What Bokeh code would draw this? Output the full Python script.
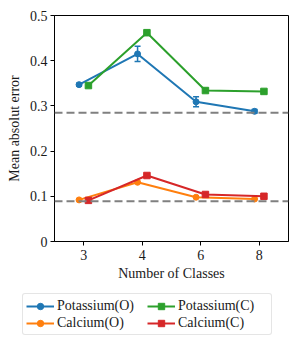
from bokeh.plotting import figure
from bokeh.models import (ColumnDataSource, FactorRange, Span, Whisker, Legend, LegendItem,
                          FixedTicker, Range1d, TeeHead)
from bokeh.transform import dodge
from bokeh.embed import file_html
from bokeh.resources import INLINE

classes = ["3", "4", "6", "8"]
potassium_o = [0.347, 0.415, 0.309, 0.288]
potassium_o_err = [0.003, 0.017, 0.011, 0.004]
potassium_c = [0.345, 0.462, 0.334, 0.332]
calcium_o = [0.092, 0.131, 0.098, 0.094]
calcium_c = [0.091, 0.146, 0.104, 0.100]
baseline_potassium = 0.285
baseline_calcium = 0.089
y_ticks = [0.0, 0.1, 0.2, 0.3, 0.4, 0.5]
series_labels = ["Potassium(O)", "Calcium(O)", "Potassium(C)", "Calcium(C)"]

FONT = "Liberation Serif"
TXT = "#1a1a1a"

src = ColumnDataSource(dict(
    x=classes, ko=potassium_o,
    ko_lo=[v - e for v, e in zip(potassium_o, potassium_o_err)],
    ko_hi=[v + e for v, e in zip(potassium_o, potassium_o_err)],
    kc=potassium_c, co=calcium_o, cc=calcium_c,
))

p = figure(x_range=FactorRange(factors=classes), y_range=Range1d(0, 0.5),
           width=298, height=287, output_backend="svg", toolbar_location=None,
           min_border_left=54, min_border_top=15, min_border_right=10, min_border_bottom=46)
p.x_range.range_padding = 0
p.xgrid.visible = False
p.ygrid.visible = False
p.outline_line_color = "black"
p.outline_line_alpha = 1
p.outline_line_width = 1
p.background_fill_color = "white"
p.border_fill_color = "white"

for ax in (p.xaxis[0], p.yaxis[0]):
    ax.axis_line_color = "black"
    ax.major_tick_line_color = "black"
    ax.major_tick_in = 0
    ax.major_tick_out = 4
    ax.minor_tick_line_color = None
    ax.major_label_text_font = FONT
    ax.major_label_text_font_size = "14px"
    ax.major_label_text_color = TXT
    ax.axis_label_text_font = FONT
    ax.axis_label_text_font_size = "14px"
    ax.axis_label_text_font_style = "normal"
    ax.axis_label_text_color = TXT
p.yaxis.ticker = FixedTicker(ticks=y_ticks)
p.yaxis.formatter.use_scientific = False
p.yaxis.axis_label = "Mean absolut error"
p.xaxis.axis_label = "Number of Classes"
p.xaxis.major_label_standoff = 4
p.yaxis.major_label_standoff = 3
p.xaxis.axis_label_standoff = 3
p.yaxis.axis_label_standoff = 5

for loc in (baseline_potassium, baseline_calcium):
    p.add_layout(Span(location=loc, dimension="width", line_color="gray",
                      line_dash="8 4", line_width=2))

off = 0.08
blue, orange, green, red = "#1f77b4", "#ff7f0e", "#2ca02c", "#d62728"

def series(fig, field, dx, color, marker, size):
    xs = dodge("x", dx, range=fig.x_range)
    l = fig.line(x=xs, y=field, source=src, line_color=color, line_width=2)
    m = fig.scatter(x=xs, y=field, source=src, marker=marker, size=size,
                    fill_color=color, line_color=color)
    return [l, m]

styles = [("ko", -off, blue, "circle", 6), ("co", -off, orange, "circle", 6),
          ("kc", off, green, "square", 6.5), ("cc", off, red, "square", 6.5)]

for f, dx, c, mk, sz in styles:
    series(p, f, dx, c, mk, sz)
wk = Whisker(base=dodge("x", -off, range=p.x_range), lower="ko_lo", upper="ko_hi",
             source=src, line_color=blue, line_width=1.5)
wk.upper_head = TeeHead(size=6, line_color=blue, line_width=1.5)
wk.lower_head = TeeHead(size=6, line_color=blue, line_width=1.5)
p.add_layout(wk)

# legend strip below the chart: same series, drawn outside its visible range,
# so only the legend swatches show
q = figure(width=298, height=58, output_backend="svg", toolbar_location=None,
           x_range=FactorRange(factors=classes), y_range=Range1d(5, 6),
           x_axis_location=None, y_axis_location=None,
           min_border_left=0, min_border_right=0, min_border_top=0, min_border_bottom=0)
q.outline_line_color = None
q.xgrid.visible = False
q.ygrid.visible = False
q.border_fill_color = "white"
q.background_fill_color = "white"
items = []
for lab, (f, dx, c, mk, sz) in zip(series_labels, styles):
    items.append(LegendItem(label=lab, renderers=series(q, f, dx, c, mk, sz)))

legend = Legend(items=items, ncols=2, location=(22, 10))
legend.label_text_font = FONT
legend.label_text_font_size = "14px"
legend.label_text_color = TXT
legend.glyph_width = 28
legend.glyph_height = 16
legend.label_height = 17
legend.label_width = 90
legend.label_standoff = 3
legend.spacing = 0
legend.padding = 3
legend.margin = 0
legend.border_line_color = "#cccccc"
legend.border_line_width = 1
legend.border_radius = 3
legend.background_fill_color = "white"
legend.background_fill_alpha = 1
q.add_layout(legend, "center")

open("out.html", "w").write(file_html([p, q], INLINE))
